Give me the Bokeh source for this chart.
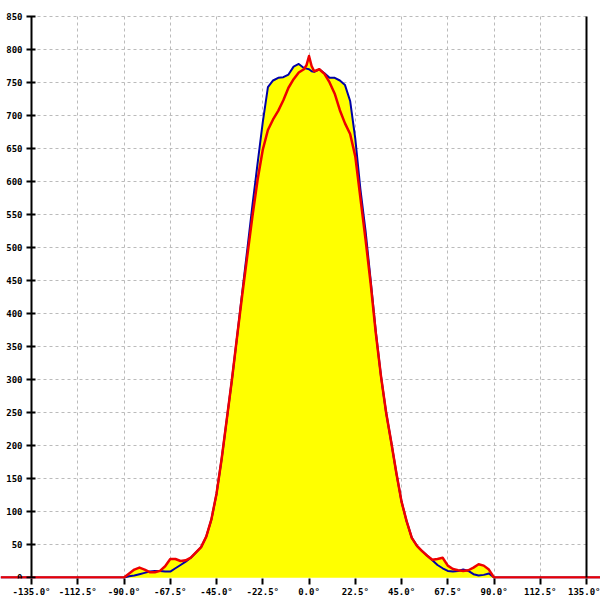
from bokeh.plotting import figure
from bokeh.models import FixedTicker, CustomJSTickFormatter, Range1d, LinearAxis
from bokeh.embed import file_html
from bokeh.resources import INLINE

# ---- data ----
angles = [-150, -90, -87.5, -85, -82.5, -80, -77.5, -75, -72.5, -70, -67.5, -65, -62.5,
          -60, -57.5, -55, -52.5, -50, -47.5, -45, -42.5, -40, -37.5, -35, -32.5, -30,
          -27.5, -25, -22.5, -20, -17.5, -15, -12.5, -10, -7.5, -5, -2.5, -1.25, 0,
          1.25, 2.5, 5, 7.5, 10, 12.5, 15, 17.5, 20, 22.5, 25, 27.5, 30, 32.5, 35, 37.5,
          40, 42.5, 45, 47.5, 50, 52.5, 55, 57.5, 60, 62.5, 65, 67.5, 70, 72.5, 75, 77.5,
          80, 82.5, 85, 87.5, 90, 150]

blue_vals = [0, 0, 2, 3, 5, 7, 9, 10, 10, 9, 9, 14, 19,
             24, 30, 38, 46, 62, 88, 127, 180, 240, 300, 365, 432, 498,
             565, 628, 690, 743, 753, 757, 758, 762, 774, 778, 772, 771, 770,
             767, 766, 770, 764, 757, 757, 753, 746, 722, 665, 588, 525, 450, 372, 305, 250,
             205, 158, 115, 85, 60, 48, 40, 33, 26, 19, 14, 10, 9, 10, 12, 10,
             5, 3, 4, 6, 0, 0]

red_vals = [0, 0, 6, 12, 15, 12, 8, 8, 10, 17, 28, 28, 25,
            26, 30, 38, 46, 62, 88, 127, 180, 240, 300, 365, 428, 488,
            548, 603, 648, 678, 694, 707, 723, 742, 755, 765, 770, 776, 790,
            775, 767, 770, 763, 750, 733, 708, 688, 672, 638, 575, 512, 445, 370, 305, 250,
            205, 158, 115, 85, 60, 48, 40, 33, 27, 28, 30, 18, 13, 11, 10, 11,
            15, 20, 18, 12, 0, 0]

x_ticks = [-135, -112.5, -90, -67.5, -45, -22.5, 0, 22.5, 45, 67.5, 90, 112.5, 135]
y_ticks = [0, 50, 100, 150, 200, 250, 300, 350, 400, 450, 500, 550, 600, 650, 700, 750, 800, 850]

x_lo, x_hi = x_ticks[0], x_ticks[-1]
y_lo, y_hi = y_ticks[0], y_ticks[-1]

p = figure(width=600, height=600, output_backend="svg", toolbar_location=None,
           x_range=Range1d(-150.1, 141.8), y_range=Range1d(-1.5, 856),
           min_border_left=0, min_border_right=0, min_border_top=12, min_border_bottom=22)
p.outline_line_color = None
p.background_fill_color = "white"
p.border_fill_color = "white"

p.varea(x=angles, y1=0, y2=blue_vals, fill_color="#ffff00")
p.varea(x=angles, y1=0, y2=red_vals, fill_color="#ffff00")
p.line(angles, blue_vals, line_color="#0000a8", line_width=2, line_join="round")
p.line(angles, red_vals, line_color="#ee0000", line_width=2.5, line_join="round")

font = "DejaVu Sans Mono"

xa = p.xaxis[0]
xa.ticker = FixedTicker(ticks=x_ticks)
xa.formatter = CustomJSTickFormatter(code="return tick.toFixed(1) + '\u00b0';")
xa.axis_line_color = None
xa.major_tick_in = 0
xa.major_tick_out = 6
xa.major_tick_line_width = 2
xa.minor_tick_line_color = None
xa.major_label_standoff = 2
xa.major_label_text_font = font
xa.major_label_text_font_style = "bold"
xa.major_label_text_font_size = "9px"
xa.major_label_text_color = "black"

ya = p.yaxis[0]
ya.fixed_location = x_lo
ya.bounds = (y_lo, y_hi)
ya.ticker = FixedTicker(ticks=y_ticks)
ya.axis_line_width = 2
ya.axis_line_color = "black"
ya.major_tick_in = 4
ya.major_tick_out = 5
ya.major_tick_line_width = 2
ya.minor_tick_line_color = None
ya.major_label_standoff = 4
ya.major_label_text_font = font
ya.major_label_text_font_style = "bold"
ya.major_label_text_font_size = "9px"
ya.major_label_text_color = "black"

ra = LinearAxis(fixed_location=x_hi, bounds=(y_lo, y_hi), ticker=FixedTicker(ticks=[]),
                axis_line_width=2, axis_line_color="black",
                major_tick_line_color=None, minor_tick_line_color=None,
                major_label_text_color=None)
p.add_layout(ra, "right")

p.xgrid.ticker = FixedTicker(ticks=x_ticks[1:-1])
p.ygrid.ticker = FixedTicker(ticks=y_ticks[1:])
for g in (p.xgrid[0], p.ygrid[0]):
    g.grid_line_color = "#bbbbbb"
    g.grid_line_dash = "3 3"
    g.grid_line_width = 1
try:
    p.ygrid[0].cross_bounds = (x_lo, x_hi)
    p.xgrid[0].cross_bounds = (y_lo, y_hi)
except Exception:
    pass

open("out.html", "w").write(file_html(p, INLINE))
